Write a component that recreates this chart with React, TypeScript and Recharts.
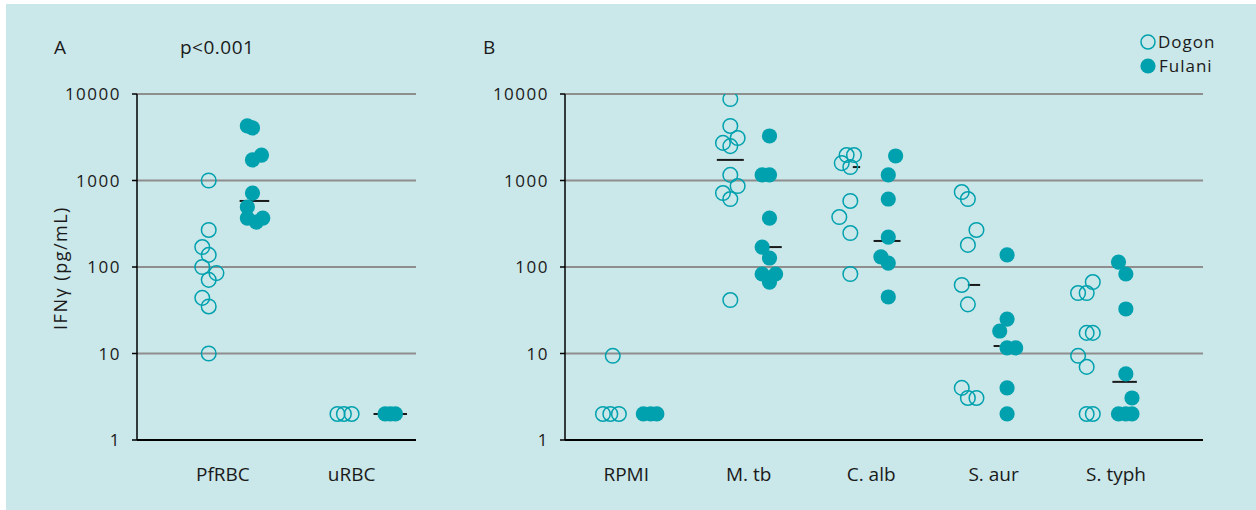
import React from "react";
import {
  ScatterChart, Scatter, XAxis, YAxis, CartesianGrid, ReferenceLine,
} from "recharts";

const BG = "#cae7e9";
const TEAL = "#00a1ae";
const GRID = "#8e8e8e";
const FONT = "'Open Sans', sans-serif";

const yTicks = [1, 10, 100, 1000, 10000];

// Panel A
const catsA = ["PfRBC", "uRBC"];
const dogonA = [
  { x: 0.89, y: 1000 }, { x: 0.89, y: 268 }, { x: 0.84, y: 170 }, { x: 0.89, y: 138 },
  { x: 0.84, y: 100 }, { x: 0.95, y: 85 }, { x: 0.89, y: 71 }, { x: 0.84, y: 44 },
  { x: 0.89, y: 35 }, { x: 0.89, y: 10 },
  { x: 1.89, y: 2 }, { x: 1.94, y: 2 }, { x: 2.0, y: 2 },
];
const fulaniA = [
  { x: 1.19, y: 4270 }, { x: 1.23, y: 4050 }, { x: 1.3, y: 1970 }, { x: 1.23, y: 1730 },
  { x: 1.23, y: 716 }, { x: 1.19, y: 494 }, { x: 1.19, y: 368 }, { x: 1.26, y: 331 },
  { x: 1.31, y: 368 },
  { x: 2.26, y: 2 }, { x: 2.3, y: 2 }, { x: 2.34, y: 2 },
];
const mediansA = [
  { x1: 1.13, x2: 1.36, y: 580 },
  { x1: 2.17, x2: 2.43, y: 2 },
];

// Panel B
const catsB = ["RPMI", "M. tb", "C. alb", "S. aur", "S. typh"];
const dogonB = [
  { x: 0.89, y: 9.4 }, { x: 0.81, y: 2 }, { x: 0.87, y: 2 }, { x: 0.94, y: 2 },
  { x: 1.85, y: 8740 }, { x: 1.85, y: 4270 }, { x: 1.91, y: 3100 }, { x: 1.79, y: 2720 },
  { x: 1.85, y: 2500 }, { x: 1.85, y: 1160 }, { x: 1.91, y: 863 }, { x: 1.79, y: 716 },
  { x: 1.85, y: 611 }, { x: 1.85, y: 41.5 },
  { x: 2.8, y: 1970 }, { x: 2.86, y: 1970 }, { x: 2.76, y: 1590 }, { x: 2.83, y: 1430 },
  { x: 2.83, y: 580 }, { x: 2.74, y: 378 }, { x: 2.83, y: 247 }, { x: 2.83, y: 83 },
  { x: 3.74, y: 736 }, { x: 3.79, y: 611 }, { x: 3.86, y: 268 }, { x: 3.79, y: 180 },
  { x: 3.74, y: 62 }, { x: 3.79, y: 37 }, { x: 3.74, y: 4 }, { x: 3.79, y: 3.06 },
  { x: 3.86, y: 3.06 },
  { x: 4.81, y: 67 }, { x: 4.69, y: 50 }, { x: 4.76, y: 50 }, { x: 4.76, y: 17.3 },
  { x: 4.81, y: 17.3 }, { x: 4.69, y: 9.4 }, { x: 4.76, y: 7 }, { x: 4.76, y: 2 },
  { x: 4.81, y: 2 },
];
const fulaniB = [
  { x: 1.14, y: 2 }, { x: 1.2, y: 2 }, { x: 1.25, y: 2 },
  { x: 2.17, y: 3270 }, { x: 2.11, y: 1160 }, { x: 2.17, y: 1160 }, { x: 2.17, y: 368 },
  { x: 2.11, y: 170 }, { x: 2.17, y: 127 }, { x: 2.11, y: 83 }, { x: 2.22, y: 83 },
  { x: 2.17, y: 67 },
  { x: 3.2, y: 1920 }, { x: 3.14, y: 1160 }, { x: 3.14, y: 611 }, { x: 3.14, y: 222 },
  { x: 3.08, y: 131 }, { x: 3.14, y: 111 }, { x: 3.14, y: 45 },
  { x: 4.11, y: 138 }, { x: 4.11, y: 25 }, { x: 4.05, y: 18.2 }, { x: 4.11, y: 11.6 },
  { x: 4.18, y: 11.6 }, { x: 4.11, y: 4 }, { x: 4.11, y: 2 },
  { x: 5.02, y: 114 }, { x: 5.08, y: 83 }, { x: 5.08, y: 32.7 }, { x: 5.08, y: 5.8 },
  { x: 5.13, y: 3.06 }, { x: 5.02, y: 2 }, { x: 5.08, y: 2 }, { x: 5.13, y: 2 },
];
const mediansB = [
  { x1: 1.74, x2: 1.96, y: 1730 },
  { x1: 2.16, x2: 2.27, y: 170 },
  { x1: 2.85, x2: 2.91, y: 1430 },
  { x1: 3.02, x2: 3.24, y: 200 },
  { x1: 3.79, x2: 3.89, y: 62 },
  { x1: 4.0, x2: 4.05, y: 12.2 },
  { x1: 4.97, x2: 5.17, y: 4.7 },
];

const legendNames = ["Dogon", "Fulani"];

const OpenDot = (p: any) => (
  <circle cx={p.cx} cy={p.cy} r={7.3} fill="none" stroke={TEAL} strokeWidth={1.5} />
);
const FilledDot = (p: any) => <circle cx={p.cx} cy={p.cy} r={7.6} fill={TEAL} />;

type Pt = { x: number; y: number };
type Med = { x1: number; x2: number; y: number };

function Panel({
  width, marginLeft, marginRight, domain, cats, dogon, fulani, medians,
}: {
  width: number; marginLeft: number; marginRight: number; domain: [number, number];
  cats: string[]; dogon: Pt[]; fulani: Pt[]; medians: Med[];
}) {
  return (
    <ScatterChart
      width={width}
      height={510}
      margin={{ top: 94, right: marginRight, bottom: 30, left: marginLeft }}
    >
      <CartesianGrid horizontal vertical={false} stroke={GRID} strokeWidth={2} />
      <XAxis
        type="number"
        dataKey="x"
        domain={domain}
        ticks={cats.map((_, i) => i + 1)}
        tickFormatter={(v: number) => cats[v - 1]}
        allowDataOverflow
        height={40}
        tickLine={false}
        tickSize={0}
        tickMargin={28}
        axisLine={{ stroke: "#000", strokeWidth: 2 }}
        tick={{ fontSize: 19, fill: "#1a1a1a", fontFamily: FONT }}
      />
      <YAxis
        type="number"
        dataKey="y"
        scale="log"
        domain={[1, 10000]}
        ticks={yTicks}
        allowDataOverflow
        width={70}
        tickSize={5}
        tickMargin={11}
        axisLine={{ stroke: "#000", strokeWidth: 1.5 }}
        tickLine={{ stroke: "#000", strokeWidth: 1.5 }}
        tick={{ fontSize: 17, fill: "#1a1a1a", fontFamily: FONT, letterSpacing: 1.5 }}
      />
      {medians.map((m, i) => (
        <ReferenceLine
          key={i}
          segment={[{ x: m.x1, y: m.y }, { x: m.x2, y: m.y }]}
          stroke="#1a1a1a"
          strokeWidth={2}
        />
      ))}
      <Scatter data={dogon} shape={OpenDot} isAnimationActive={false} />
      <Scatter data={fulani} shape={FilledDot} isAnimationActive={false} />
    </ScatterChart>
  );
}

const textStyle: React.CSSProperties = {
  position: "absolute",
  fontFamily: FONT,
  color: "#1a1a1a",
  whiteSpace: "nowrap",
  lineHeight: 1,
};

export default function App() {
  return (
    <div style={{ position: "absolute", left: 0, top: 0, width: 1256, height: 510, background: "#fff" }}>
      <div style={{ position: "absolute", left: 6, top: 4, right: 0, bottom: 0, background: BG }} />
      <div style={{ position: "absolute", left: 0, top: 0 }}>
        <Panel
          width={430}
          marginLeft={67}
          marginRight={14}
          domain={[0.333, 2.5]}
          cats={catsA}
          dogon={dogonA}
          fulani={fulaniA}
          medians={mediansA}
        />
      </div>
      <div style={{ position: "absolute", left: 430, top: 0 }}>
        <Panel
          width={826}
          marginLeft={65}
          marginRight={53}
          domain={[0.5, 5.71]}
          cats={catsB}
          dogon={dogonB}
          fulani={fulaniB}
          medians={mediansB}
        />
      </div>
      <div style={{ ...textStyle, left: 54, top: 38, fontSize: 19 }}>A</div>
      <div style={{ ...textStyle, left: 180, top: 38, fontSize: 19, letterSpacing: 0.5 }}>p&lt;0.001</div>
      <div style={{ ...textStyle, left: 483, top: 38, fontSize: 19 }}>B</div>
      <div
        style={{
          ...textStyle,
          left: 60,
          top: 268,
          fontSize: 18,
          letterSpacing: 1.5,
          transform: "translate(-50%, -50%) rotate(-90deg)",
        }}
      >
        IFNγ (pg/mL)
      </div>
      <svg style={{ position: "absolute", left: 1138, top: 32 }} width={20} height={46}>
        <circle cx={10} cy={10} r={7} fill="none" stroke={TEAL} strokeWidth={1.5} />
        <circle cx={10} cy={34} r={7.6} fill={TEAL} />
      </svg>
      <div style={{ ...textStyle, left: 1158, top: 30, fontSize: 17, letterSpacing: 1, lineHeight: "24px" }}>
        {legendNames[0]}
      </div>
      <div style={{ ...textStyle, left: 1159, top: 54, fontSize: 17, letterSpacing: 1, lineHeight: "24px" }}>
        {legendNames[1]}
      </div>
    </div>
  );
}
